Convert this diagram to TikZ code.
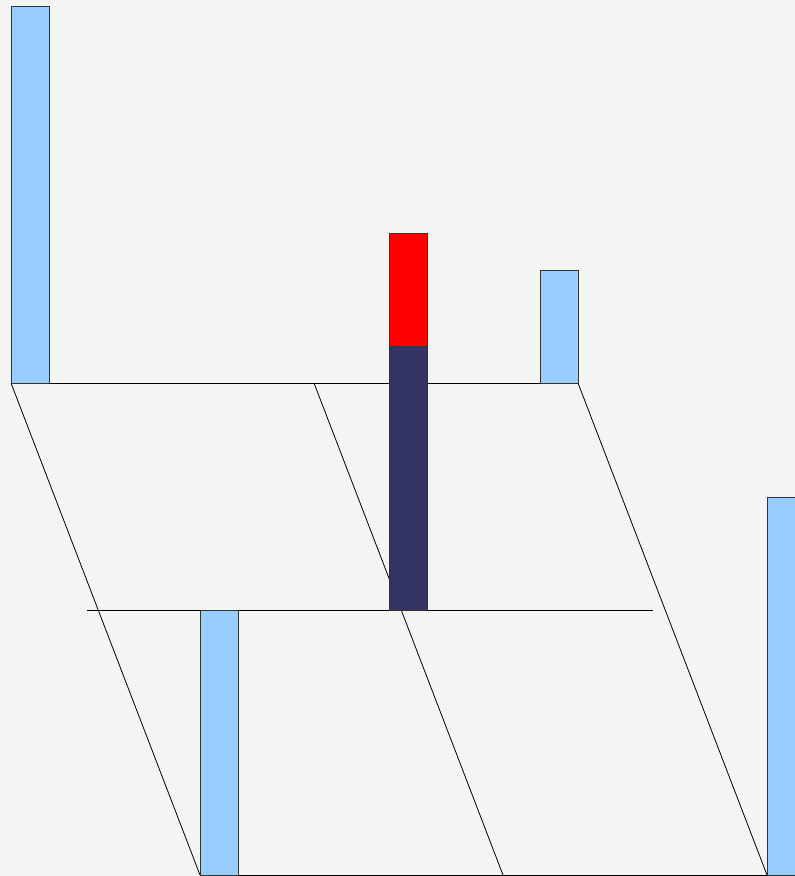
\documentclass[tikz,border=0pt]{standalone}
\begin{document}
\begin{tikzpicture}[x=1pt,y=-1pt,
  ln/.style={draw=black,line width=0.8pt},
  bar/.style={draw=black!80,line width=0.8pt}]
\definecolor{bg}{HTML}{F4F4F2}
\definecolor{lblue}{HTML}{99CCFF}
\definecolor{navy}{HTML}{333366}
\useasboundingbox (0,0) rectangle (795,876);
\clip (0,0) rectangle (795,876);
\fill[bg] (0,0) rectangle (795,876);
% horizontal lines
\coordinate (tl) at (11,383); \coordinate (tr) at (578,383);
\coordinate (ml) at (87,610); \coordinate (mr) at (653,610);
\coordinate (bl) at (200,875); \coordinate (br) at (767,875);
\coordinate (tm) at (314,383); \coordinate (bm) at (503,875);
\draw[ln] (tl) -- (tr);
\draw[ln] (ml) -- (mr);
\draw[ln] (bl) -- (br);
% slanted lines
\draw[ln] (tl) -- (bl);
\draw[ln] (tm) -- (bm);
\draw[ln] (tr) -- (br);
% bars
\filldraw[bar,fill=lblue] (11,6) rectangle (49,383);
\filldraw[bar,fill=lblue] (540,270) rectangle (578,383);
\filldraw[bar,fill=red] (389,233) rectangle (427,346);
\filldraw[bar,fill=navy] (389,346) rectangle (427,610);
\filldraw[bar,fill=lblue] (200,610) rectangle (238,875);
\filldraw[bar,fill=lblue] (767,497) rectangle (800,875);
\end{tikzpicture}
\end{document}
